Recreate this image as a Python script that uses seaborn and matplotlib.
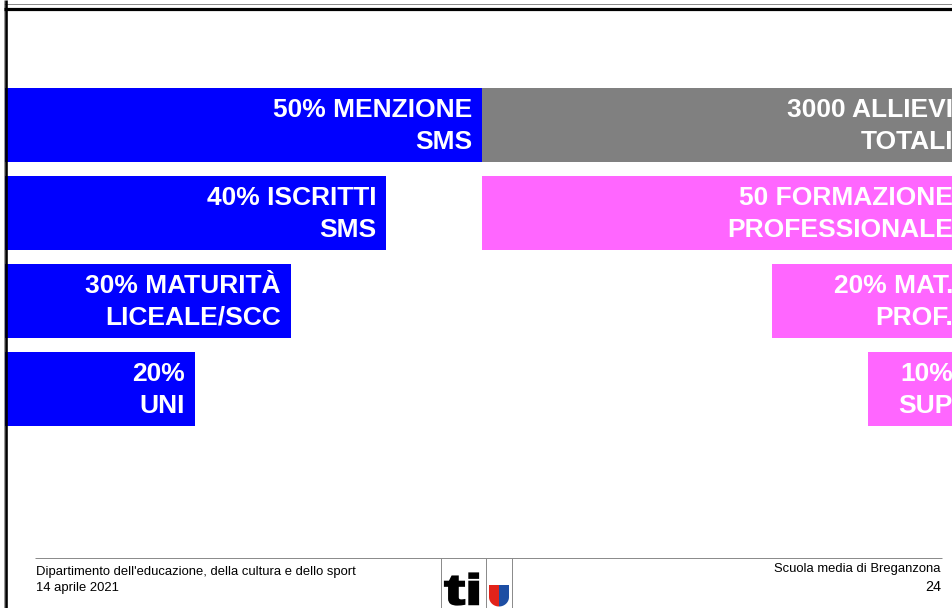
import matplotlib
matplotlib.use("Agg")
import matplotlib.pyplot as plt
import seaborn as sns
import numpy as np
from matplotlib import font_manager
from matplotlib.lines import Line2D
from matplotlib.patches import Polygon, PathPatch
from matplotlib.textpath import TextPath
from matplotlib.font_manager import FontProperties
from matplotlib.transforms import Affine2D

# ---------------- data ----------------
rows = ["r1", "r2", "r3", "r4"]
left_labels = ["50% MENZIONE\nSMS", "40% ISCRITTI\nSMS", "30% MATURITÀ\nLICEALE/SCC", "20%\nUNI"]
left_values = [50, 40, 30, 20]
right_labels = ["3000 ALLIEVI\nTOTALI", "50 FORMAZIONE\nPROFESSIONALE", "20% MAT.\nPROF.", "10%\nSUP"]
right_values = [50, 50, 20, 10]
right_colors = ["#808080", "#FF66FF", "#FF66FF", "#FF66FF"]
left_color = "#0000FF"
footer_left = ["Dipartimento dell'educazione, della cultura e dello sport", "14 aprile 2021"]
footer_right = ["Scuola media di Breganzona", "24"]

plt.rcParams['font.family'] = ['Liberation Sans', 'DejaVu Sans']
names = {f.name for f in font_manager.fontManager.ttflist}
narrow = 'Liberation Sans Narrow' if 'Liberation Sans Narrow' in names else 'Liberation Sans'
foot_size = 10.5 if narrow == 'Liberation Sans Narrow' else 9.4

W, H = 952, 608
fig = plt.figure(figsize=(W / 100, H / 100), dpi=100)
fig.patch.set_facecolor("white")

def fx(px):
    return px / W

def fy(py):
    return 1 - py / H

top, bot = 81, 433
span_l = 956
span_r = 966
right_end = 965
pos_l = [fx(4), fy(bot), fx(span_l), (bot - top) / H]
pos_r = [fx(right_end - span_r), fy(bot), fx(span_r), (bot - top) / H]

# left (blue) bars
ax_l = fig.add_axes(pos_l)
sns.barplot(x=left_values, y=rows, order=rows, color=left_color, saturation=1,
            width=0.85, orient='h', linewidth=0, ax=ax_l)
ax_l.set_xlim(0, 100)
ax_l.set_ylim(3.5, -0.5)
ax_l.axis("off")

# right (gray / pink) bars growing from the right edge
ax_r = fig.add_axes(pos_r)
sns.barplot(x=right_values, y=rows, order=rows, hue=rows, hue_order=rows,
            palette=right_colors, saturation=1, legend=False,
            width=0.85, orient='h', linewidth=0, ax=ax_r)
ax_r.set_xlim(100, 0)
ax_r.set_ylim(3.5, -0.5)
ax_r.patch.set_alpha(0)
ax_r.axis("off")

txt_kw = dict(textcoords='offset pixels', ha='right', va='center', multialignment='right',
              color='white', fontsize=19, fontweight='bold', linespacing=1.38)
for i, (lab, v) in enumerate(zip(left_labels, left_values)):
    ax_l.annotate(lab, xy=(v, i), xytext=(-10, -1), **txt_kw)
for i, lab in enumerate(right_labels):
    ax_r.annotate(lab, xy=(0, i), xytext=(-12, -1), **txt_kw)

# ---------------- slide decoration ----------------
def hline(y, x0, x1, lw, color, z=5):
    fig.add_artist(Line2D([fx(x0), fx(x1)], [fy(y), fy(y)], lw=lw * 0.72, color=color,
                          transform=fig.transFigure, zorder=z, solid_capstyle='butt'))

def vline(x, y0, y1, lw, color, z=5):
    fig.add_artist(Line2D([fx(x), fx(x)], [fy(y0), fy(y1)], lw=lw * 0.72, color=color,
                          transform=fig.transFigure, zorder=z, solid_capstyle='butt'))

hline(4, 4, 952, 1, "#8c8c8c")
hline(8.5, 4, 952, 3.2, "black")
vline(4, 0, 608, 1, "#9a9a9a", z=4)
vline(6, 0, 608, 2.6, "black", z=10)

# footer
hline(557.5, 35, 942, 1, "#8c8c8c")
for xv in (441, 486, 512):
    vline(xv, 557.5, 608, 1, "#8c8c8c")

fig.text(fx(36), fy(572), footer_left[0], ha='left', va='center', family=narrow,
         fontsize=foot_size, color='black')
fig.text(fx(36), fy(588), footer_left[1], ha='left', va='center', family=narrow,
         fontsize=foot_size, color='black')
fig.text(fx(941), fy(569), footer_right[0], ha='right', va='center', family=narrow,
         fontsize=foot_size, color='black')
fig.text(fx(941), fy(587), footer_right[1], ha='right', va='center', family=narrow,
         fontsize=foot_size + 1, color='black')

# "ti" logo
tp = TextPath((0, 0), "ti", size=44, prop=FontProperties(family='Liberation Sans', weight='bold'))
ext = tp.get_extents()
fig.add_artist(PathPatch(tp, transform=Affine2D().translate(-ext.x0, -ext.y0)
                         .scale(33 / ext.width, 31 / ext.height).translate(445, H - 604.5),
                         facecolor='black', edgecolor='black', lw=1.6, zorder=6))

# shield
cx, top_s, mid_s, rx, ry = 499, 585, 597, 10, 9.5
th_l = np.linspace(np.pi / 2, np.pi, 20)
left_pts = [(cx - rx, top_s), (cx, top_s), (cx, mid_s + ry)] + \
           [(cx + rx * np.cos(t), mid_s + ry * np.sin(t)) for t in th_l[1:]]
th_r = np.linspace(0, np.pi / 2, 20)
right_pts = [(cx, top_s), (cx + rx, top_s)] + \
            [(cx + rx * np.cos(t), mid_s + ry * np.sin(t)) for t in th_r] + [(cx, mid_s + ry)]
for pts, col in ((left_pts, "#e2231a"), (right_pts, "#1d4ea3")):
    fig.add_artist(Polygon([(fx(x), fy(y)) for x, y in pts], closed=True, facecolor=col,
                           edgecolor='none', transform=fig.transFigure, zorder=6))

fig.savefig("out.png", dpi=100, facecolor="white")
